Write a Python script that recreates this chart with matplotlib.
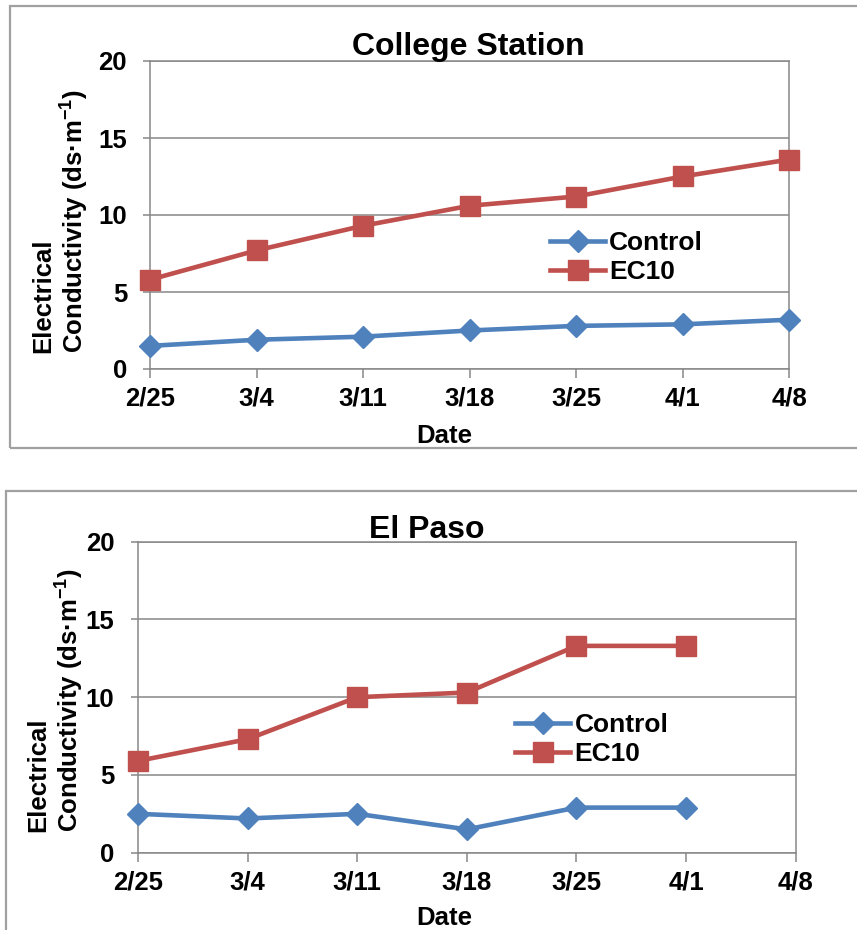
import numpy as np
import matplotlib
matplotlib.use("Agg")
import matplotlib.pyplot as plt
from matplotlib.patches import Rectangle

# dados
datas = ["2/25", "3/4", "3/11", "3/18", "3/25", "4/1", "4/8"]

cs_control = [1.5, 1.9, 2.1, 2.5, 2.8, 2.9, 3.2]
cs_ec10 = [5.8, 7.7, 9.3, 10.6, 11.2, 12.5, 13.6]

ep_control = [2.5, 2.2, 2.5, 1.5, 2.9, 2.9, np.nan]
ep_ec10 = [5.9, 7.3, 10.0, 10.3, 13.3, 13.3, np.nan]

y_ticks = [0, 5, 10, 15, 20]

plt.rcParams["font.family"] = ["Liberation Sans", "DejaVu Sans"]
plt.rcParams["font.weight"] = "bold"
plt.rcParams["mathtext.fontset"] = "custom"
plt.rcParams["mathtext.rm"] = "Liberation Sans:bold"
plt.rcParams["mathtext.bf"] = "Liberation Sans:bold"
plt.rcParams["mathtext.default"] = "regular"

W, H = 857, 930
AZUL = "#4F81BD"
VERMELHO = "#C0504D"
CINZA = "#888888"

fig = plt.figure(figsize=(W / 100, H / 100), dpi=100)


def fx(px):
    return px / W


def fy(py):
    return 1 - py / H


# molduras dos dois graficos
fig.add_artist(Rectangle((fx(10), fy(448)), 1.0, (448 - 6) / H, transform=fig.transFigure,
                         fill=False, edgecolor="#A0A0A0", lw=1.6, clip_on=False))
fig.add_artist(Rectangle((fx(6), -0.05), 1.0, fy(491) + 0.05, transform=fig.transFigure,
                         fill=False, edgecolor="#A0A0A0", lw=1.6, clip_on=False))


def painel(rect, control, ec10, titulo, tit_xy, ylab_xy, leg_xy, date_xy, ypad):
    ax = fig.add_axes(rect)
    x = np.arange(len(datas))
    ax.plot(x, control, color=AZUL, lw=3.3, marker="D", ms=11, mec=AZUL,
            label="Control", clip_on=False, zorder=3)
    ax.plot(x, ec10, color=VERMELHO, lw=3.3, marker="s", ms=14.5, mec=VERMELHO,
            label="EC10", clip_on=False, zorder=3)
    ax.set_xlim(0, len(datas) - 1)
    ax.set_ylim(0, 20)
    ax.set_xticks(x)
    ax.set_xticklabels(datas)
    ax.set_yticks(y_ticks)
    ax.yaxis.grid(True, color=CINZA, lw=1.1)
    ax.set_axisbelow(True)
    for s in ax.spines.values():
        s.set_color(CINZA)
        s.set_linewidth(1.1)
    ax.tick_params(axis="x", length=6.5, width=1.1, color=CINZA, labelsize=18.5, pad=6)
    ax.tick_params(axis="y", length=5, width=1.1, color=CINZA, labelsize=18.5, pad=ypad)

    fig.text(fx(tit_xy[0]), fy(tit_xy[1]), titulo, ha="center", va="baseline",
             fontsize=23, fontweight="bold")
    fig.text(fx(date_xy[0]), fy(date_xy[1]), "Date", ha="center", va="baseline",
             fontsize=18.5, fontweight="bold")
    fig.text(fx(ylab_xy[0]), fy(ylab_xy[1]), "Electrical\nConductivity (ds\u00b7m$^{-1}$)",
             rotation=90, ha="center", va="center", multialignment="left",
             fontsize=18.5, fontweight="bold", linespacing=1.12)

    ax.legend(loc="center left", bbox_to_anchor=(fx(leg_xy[0]), fy(leg_xy[1])),
              bbox_transform=fig.transFigure, frameon=False, fontsize=19,
              handlelength=2.1, handletextpad=0.15, labelspacing=0.18,
              borderpad=0, borderaxespad=0, numpoints=1)
    return ax


# -------------------------
# College Station
# -------------------------
painel([fx(150), fy(369), (789 - 150) / W, (369 - 61) / H], cs_control, cs_ec10,
       "College Station", (468.5, 55), (61, 221.5), (550, 257.5), (444, 443), 11.5)

# -------------------------
# El Paso
# -------------------------
painel([fx(138), fy(852.7), (795.7 - 138) / W, (852.7 - 541.7) / H], ep_control, ep_ec10,
       "El Paso", (426.5, 538), (56, 700.5), (515, 739.5), (444.5, 925), 12)

plt.savefig("out.png", dpi=100)
plt.close()
